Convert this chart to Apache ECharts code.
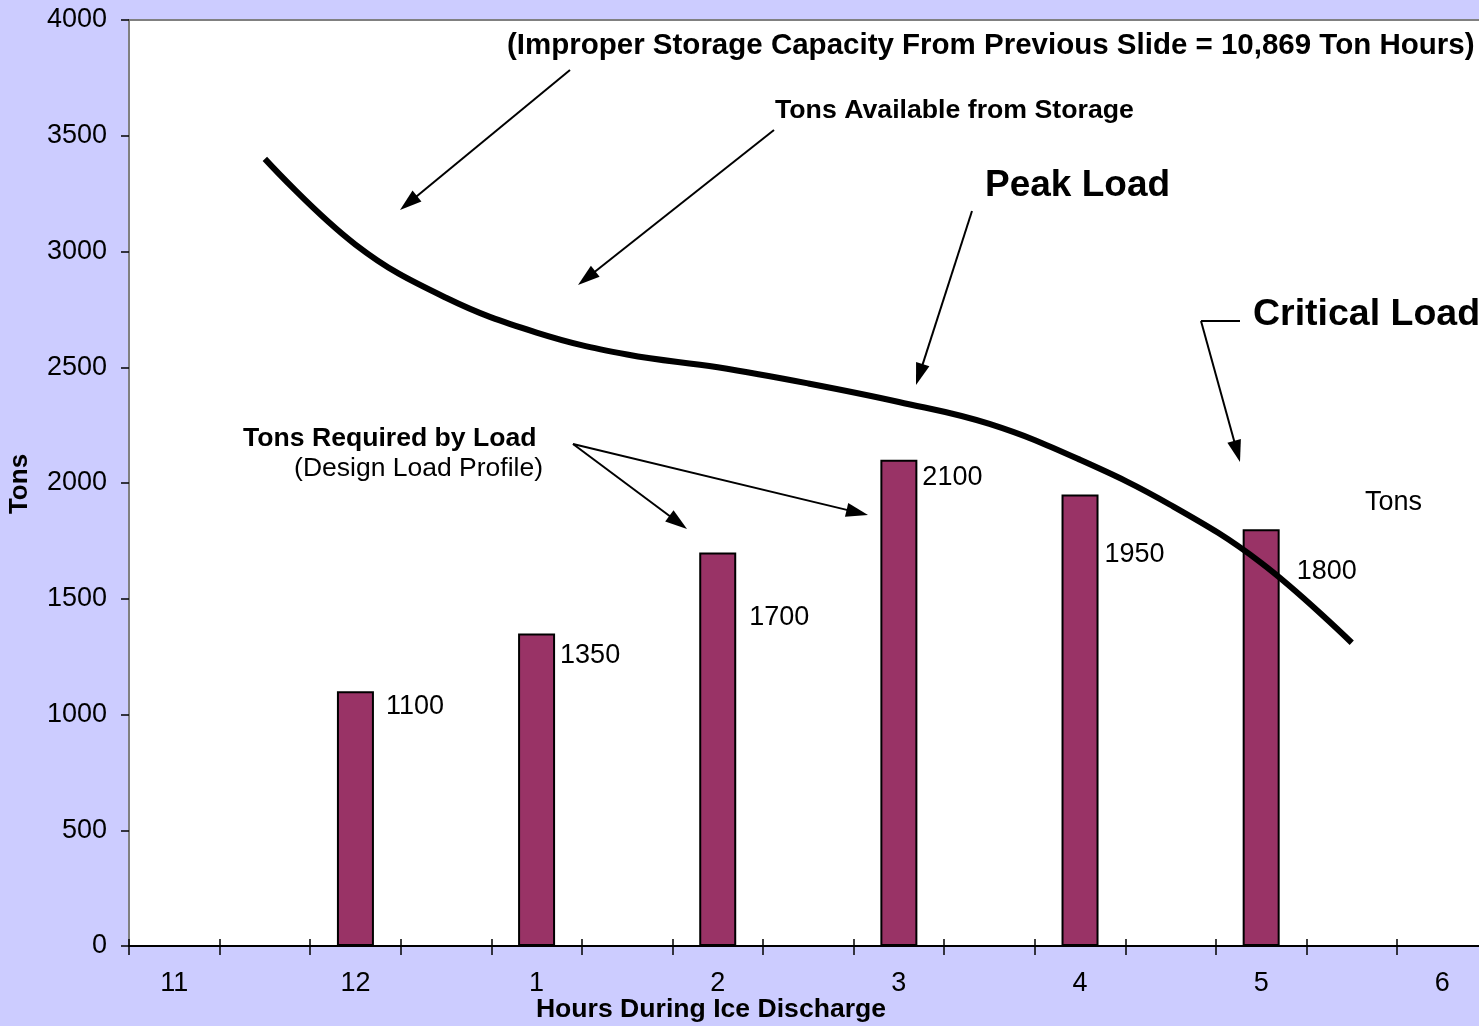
<!DOCTYPE html>
<html>
<head>
<meta charset="utf-8">
<script src="https://cdn.jsdelivr.net/npm/echarts@6/dist/echarts.min.js"></script>
<style>
  html, body { margin: 0; padding: 0; background: #CCCCFF; }
  #chart { width: 1479px; height: 1026px; }
</style>
</head>
<body>
<div id="chart"></div>
<script>
// Half-hour slots during the ice discharge; only whole hours get a label
const hours = ['11', '11:30', '12', '12:30', '1', '1:30', '2', '2:30', '3', '3:30', '4', '4:30', '5', '5:30', '6'];

// Tons required by load (design load profile), one bar per whole hour
const requiredTons = [null, null, 1100, null, 1350, null, 1700, null, 2100, null, 1950, null, 1800, null, null];

// Tons available from storage (peak load curve), 11:30 through 5:30
const availableTons = [null, 3400, 3030, 2800, 2650, 2555, 2500, 2430, 2350, 2255, 2100, 1905, 1655, 1310, null];

// Y-axis scale
const yMin = 0, yMax = 4000, yStep = 500;

// Where each bar's value label sits relative to its bar's top-left corner
const barLabelOffsets = [null, null, [49, 15], null, [42, 22], null, [50, 65], null, [42, 18], null, [43, 60], null, [54, 42], null, null];

const FONT = '"Liberation Sans", Arial, sans-serif';

const chart = echarts.init(document.getElementById('chart'));

const barData = requiredTons.map((v, i) => v == null ? null : {
  value: v,
  label: { position: barLabelOffsets[i] }
});

// Callout arrows: [fromX, fromY, toX, toY]
const arrows = [
  [570, 70, 400, 210],
  [774, 130, 578, 285],
  [972, 211, 916, 385],
  [573, 444, 687, 529],
  [573, 444, 868, 515],
  [1201, 321, 1240, 462]
];

function arrowGraphics(a) {
  const [x1, y1, x2, y2] = a;
  const ang = Math.atan2(y2 - y1, x2 - x1);
  const len = 22, half = 7;
  const bx = x2 - len * Math.cos(ang), by = y2 - len * Math.sin(ang);
  const px = -Math.sin(ang) * half, py = Math.cos(ang) * half;
  return [
    { type: 'line', shape: { x1, y1, x2: bx + (x2 - bx) * 0.3, y2: by + (y2 - by) * 0.3 },
      style: { stroke: '#000', lineWidth: 2 }, z: 100 },
    { type: 'polygon', shape: { points: [[x2, y2], [bx + px, by + py], [bx - px, by - py]] },
      style: { fill: '#000' }, z: 100 }
  ];
}

function txt(text, x, y, size, weight, align, extra) {
  return Object.assign({
    type: 'text', x, y, z: 100,
    style: {
      text, fill: '#000', font: `${weight} ${size}px ${FONT}`,
      textAlign: align || 'left', textVerticalAlign: 'middle'
    }
  }, extra || {});
}

const graphics = [];
arrows.forEach(a => graphics.push(...arrowGraphics(a)));
graphics.push({ type: 'line', shape: { x1: 1201, y1: 321, x2: 1240, y2: 321 }, style: { stroke: '#000', lineWidth: 2 }, z: 100 });
graphics.push(
  txt('(Improper Storage Capacity From Previous Slide = 10,869 Ton Hours)', 507, 46, 29.5, 'bold'),
  txt('Tons Available from Storage', 775, 111, 26.7, 'bold'),
  txt('Peak Load', 985, 186, 37, 'bold'),
  txt('Critical Load', 1253, 315, 37.5, 'bold'),
  txt('Tons Required by Load', 243, 439, 26.6, 'bold'),
  txt('(Design Load Profile)', 543, 469, 26.5, 'normal', 'right'),
  txt('Tons', 1365, 503, 27, 'normal'),
  txt('Hours During Ice Discharge', 711, 1010, 26.6, 'bold', 'center'),
  txt('Tons', 20, 484, 26, 'bold', 'center', { rotation: Math.PI / 2 })
);

const gridBox = { left: 129, top: 20, width: 1358.6, height: 926, outerBoundsMode: 'none', containLabel: false };

chart.setOption({
  backgroundColor: '#CCCCFF',
  animation: false,
  grid: [
    Object.assign({ show: true, backgroundColor: '#FFFFFF', borderColor: '#808080', borderWidth: 2 }, gridBox),
    Object.assign({ show: false }, gridBox)
  ],
  xAxis: [
    {
      type: 'category', gridIndex: 0, data: hours, boundaryGap: true,
      axisLine: { show: true, lineStyle: { color: '#000', width: 2 } },
      axisTick: { show: true, interval: 0, length: 9, lineStyle: { color: '#000', width: 1.5 } },
      axisLabel: { interval: 1, margin: 24, color: '#000', fontSize: 27, fontFamily: FONT },
      splitLine: { show: false }
    },
    {
      type: 'category', gridIndex: 1, data: hours, boundaryGap: true,
      axisLine: { show: false },
      axisTick: { show: true, interval: 0, inside: true, length: 7, lineStyle: { color: '#000', width: 1.5 } },
      axisLabel: { show: false },
      splitLine: { show: false }
    }
  ],
  yAxis: [
    {
      type: 'value', gridIndex: 0, min: yMin, max: yMax, interval: yStep,
      axisLine: { show: true, lineStyle: { color: '#808080', width: 2 } },
      axisTick: { show: true, length: 8, lineStyle: { color: '#000', width: 1.5 } },
      axisLabel: { margin: 22, color: '#000', fontSize: 27, fontFamily: FONT, formatter: v => String(v) },
      splitLine: { show: false }
    },
    { type: 'value', gridIndex: 1, min: yMin, max: yMax, show: false }
  ],
  series: [
    {
      name: 'Tons', type: 'bar', xAxisIndex: 0, yAxisIndex: 0,
      data: barData, barWidth: 37,
      itemStyle: { color: '#993366', borderColor: '#000', borderWidth: 2 },
      label: {
        show: true, color: '#000', fontSize: 27, fontFamily: FONT,
        align: 'left', verticalAlign: 'middle'
      },
      z: 2
    },
    {
      name: 'Peak Load', type: 'line', xAxisIndex: 0, yAxisIndex: 0,
      data: availableTons, smooth: 0.4, showSymbol: false, symbol: 'none',
      connectNulls: false,
      lineStyle: { color: '#000', width: 6, cap: 'butt' },
      z: 5
    }
  ],
  graphic: graphics
});
</script>
</body>
</html>
